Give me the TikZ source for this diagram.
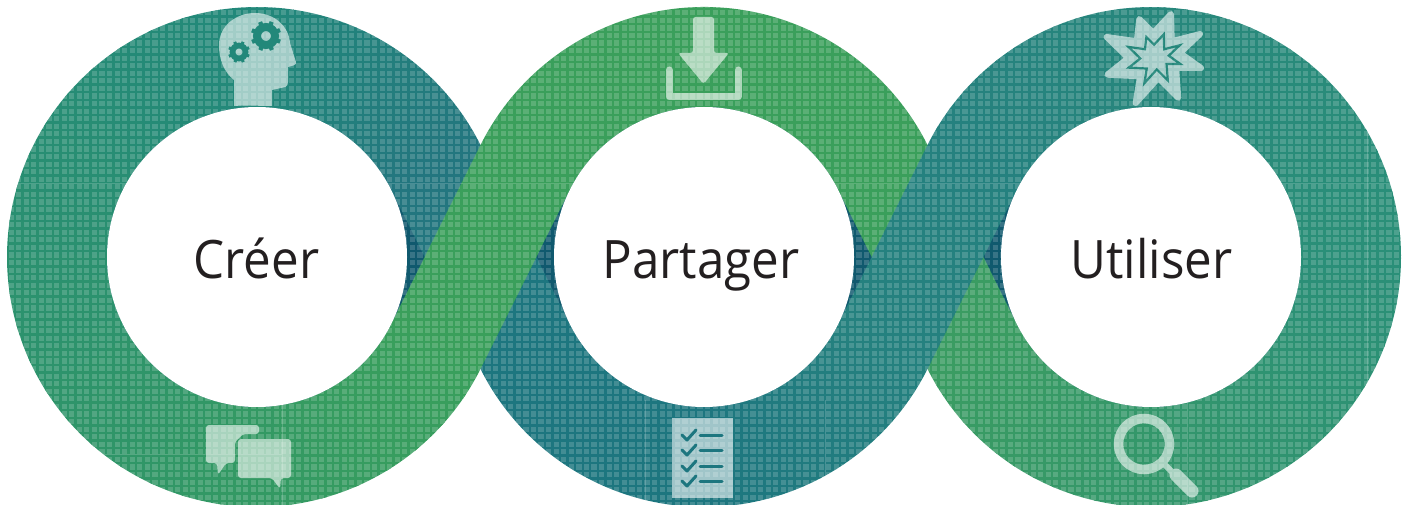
\documentclass[tikz,border=0pt]{standalone}
\usepackage{fontspec}
\setmainfont{Open Sans}
\newfontfamily\wordfont[FakeStretch=0.93]{Open Sans}
\definecolor{leftA}{HTML}{23767F}
\definecolor{leftB}{HTML}{22887A}
\definecolor{leftC}{HTML}{399F5C}
\definecolor{greenband}{HTML}{3A9F5B}
\definecolor{tealA}{HTML}{1D767F}
\definecolor{tealB}{HTML}{25817F}
\definecolor{rightB}{HTML}{2A8F78}
\definecolor{rightC}{HTML}{3A9C62}
\definecolor{crescent}{HTML}{10596E}
\definecolor{inktext}{HTML}{231F20}
\tikzset{
  ribbon/.style={line width=100pt,line cap=butt},
  cell/.style={white,opacity=.17,line width=5.2pt,dash pattern=on 5.2pt off 2.37pt},
  seam/.style={white,opacity=.18,line width=.7pt},
  icon/.style={white,opacity=.58},
  word/.style={anchor=base,text=inktext,font=\wordfont\fontsize{53}{60}\selectfont}
}
% one arc of the ribbon, going from one colour to another
\newcommand{\ribbonarc}[5]{%
  \foreach \i in {0,...,29}{
    \pgfmathsetmacro\sa{#2+(#3-#2)*\i/30}
    \pgfmathsetmacro\ea{#2+(#3-#2)*(\i+1.2)/30}
    \pgfmathsetmacro\pc{100-100*\i/29}
    \draw[ribbon,color=#4!\pc!#5] ([shift={(#1)}]\sa:200) arc[start angle=\sa,end angle=\ea,radius=200];
  }}
\newcommand{\burstpath}{(-15.7,-40) -- (-1.7,-26) -- (16,-45) -- (16.7,-17.7) -- (45,-25) -- (25,-6) -- (46,9) -- (21,9) -- (23.3,39) -- (3.3,19) -- (-19.3,44) -- (-15,17.3) -- (-47.7,15.7) -- (-26.7,-1) -- (-48.3,-22) -- (-18.3,-17.7) -- cycle}
\begin{document}
\begin{tikzpicture}[x=1pt,y=-1pt]
\useasboundingbox (0,0) rectangle (1403,505);
\coordinate (c1) at (257,257);
\coordinate (c2) at (704,257);
\coordinate (c3) at (1151,257);
\coordinate (x1) at (480.5,257);
\coordinate (x2) at (927.5,257);

% dark rings seen only beside the crossings
\foreach \c in {c1,c2,c3}
  \draw[crescent,line width=30pt] (\c) circle[radius=160];

% left ring, teal end runs under the green band
\draw[ribbon,leftA] (x1) -- ([shift={(c1)}]-26.565:200);
\ribbonarc{c1}{-25.5}{-90}{leftA}{leftB}
\ribbonarc{c1}{-90}{-333.435}{leftB}{leftC}

% teal band, first part
\draw[ribbon,tealA] (x1) -- ([shift={(c2)}]153.435:200) arc[start angle=153.435,end angle=88,radius=200];

% right ring, green end runs under the teal band
\draw[ribbon,rightC] (x2) -- ([shift={(c3)}]153.435:200);
\ribbonarc{c3}{-154.5}{0}{tealB}{rightB}
\ribbonarc{c3}{0}{153.435}{rightB}{rightC}

% green band
\draw[ribbon,greenband] ([shift={(c1)}]26.565:200) -- ([shift={(c2)}]-153.435:200) arc[start angle=-153.435,end angle=-26.565,radius=200] -- (x2);

% teal band, second part
\ribbonarc{c2}{90}{26.565}{tealA}{tealB}
\draw[ribbon,tealB] ([shift={(c2)}]26.565:200) -- ([shift={(c3)}]-153.435:200);

% squares of the weave
\begin{scope}
  \clip (c1) circle[radius=250] (c2) circle[radius=250] (c3) circle[radius=250];
  \foreach \r in {0,...,66}
    \draw[cell] (1,{5.2+7.57*\r}) -- (1403,{5.2+7.57*\r});
  \draw[seam] (0,183) -- (1403,183);
  \draw[seam] (100,454) -- (282,454);
  \draw[seam] (282,405) -- (282,505);
  \draw[seam] (645,400) -- (645,505);
  \draw[seam] (825,400) -- (825,505);
  \draw[seam] (1187,400) -- (1187,505);
  \draw[seam] (1367,130) -- (1367,400);
\end{scope}

% white middles and words
\foreach \c in {c1,c2,c3}
  \fill[white] (\c) circle[radius=150];
\node[word] (creer) at (256.5,278) {Créer};
\node[word] (partager) at (701,278) {Partager};
\node[word] (utiliser) at (1151.5,278) {Utiliser};

% head with gears
\fill[icon] (234,106) -- (234,80) .. controls (224,72) and (219,60) .. (219,45) .. controls (219,26) and (236,13) .. (255,13) .. controls (275,13) and (289,27) .. (290,43) -- (296,62) .. controls (297,65) and (292,66) .. (288,67) -- (288,82) .. controls (288,87) and (284,88) .. (281,88) -- (272,90) -- (272,106) .. controls (260,106) and (246,105) .. (234,106) -- cycle;
\foreach \gx/\gy/\gr in {266/36/1,239/52/.72}{
  \draw[leftB,line width=\gr*8pt] (\gx,\gy) circle[radius=\gr*9];
  \foreach \a in {0,45,...,315}
    \draw[leftB,line width=\gr*4.2pt] (\gx,\gy) ++(\a+22:\gr*11) -- ++(\a+22:\gr*4.2);
}

% download arrow
\fill[icon,rounded corners=2.5pt] (693,17) -- (714,17) -- (714,53) -- (729,53) -- (703.5,84) -- (678,53) -- (693,53) -- cycle;
\draw[icon,line width=7pt,line cap=round,line join=round] (669,70) -- (669,97) -- (738,97) -- (738,70);

% burst
\begin{scope}[shift={(1155,59)},transparency group,opacity=.58]
  \fill[white,draw=white,line width=6pt,line join=round] \burstpath;
  \begin{scope}[scale=.55]
    \draw[leftB,line width=2.2pt,line join=miter] \burstpath;
  \end{scope}
\end{scope}

% speech bubbles
\fill[icon,rounded corners=3pt] (206,425) -- (259,425) -- (259,434) -- (243,434) -- (235,442) -- (235,463) -- (226,463) -- (218,475) -- (217,463) -- (206,463) -- cycle;
\fill[icon,rounded corners=3pt] (238,439) -- (291,439) -- (291,478) -- (281,478) -- (280,489) -- (272,478) -- (238,478) -- cycle;

% check list
\fill[icon] (672,418) rectangle (733,498);
\foreach \ky in {435,450,466,481}{
  \draw[tealA,line width=3pt,line cap=round,line join=round] (682,\ky) -- ++(5,5) -- ++(9,-10);
  \draw[tealA,line width=3pt,line cap=round] (700,\ky) -- (722,\ky);
}

% magnifier
\begin{scope}[transparency group,opacity=.58]
  \draw[white,line width=9.5pt] (1144,444) circle[radius=25.5];
  \draw[white,line width=6pt] (1165,465) -- (1176,476);
  \draw[white,line width=13pt,line cap=round] (1176,475) -- (1192,491);
\end{scope}
\end{tikzpicture}
\end{document}
